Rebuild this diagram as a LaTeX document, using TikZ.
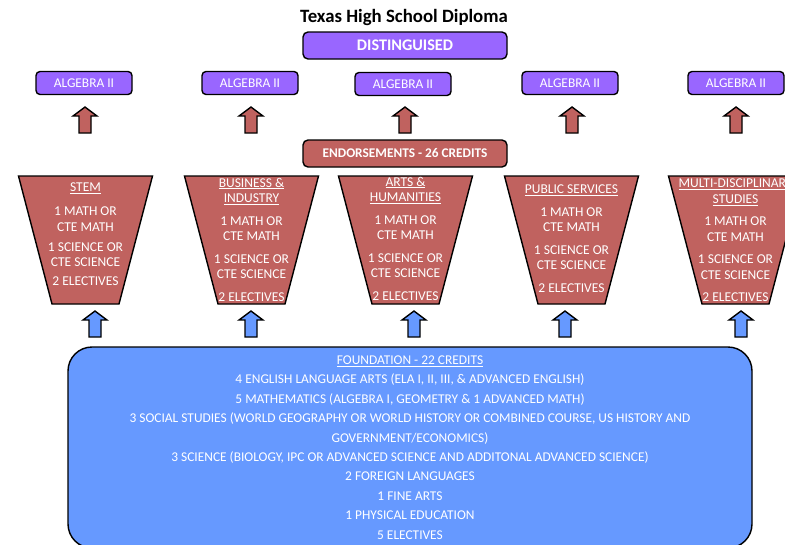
\documentclass[tikz,border=0pt]{standalone}
\usepackage{fontspec}
\setmainfont{Carlito}
\usepackage{tikz}
\definecolor{distpurple}{RGB}{153,102,255}
\definecolor{endorsered}{RGB}{192,98,95}
\definecolor{foundblue}{RGB}{102,153,255}

\begin{document}
\begin{tikzpicture}[x=1pt,y=-1pt,
    purplebox/.style={draw=black,line width=1.4pt,fill=distpurple,rounded corners=4pt,
      text=white,inner sep=0pt,minimum width=96pt,minimum height=23pt,
      font=\fontsize{13.4}{15}\selectfont},
    headbox/.style={draw=black,line width=1.4pt,rounded corners=5pt,text=white,
      inner sep=0pt,minimum width=204pt,minimum height=27pt},
    traptext/.style={text=white,inner sep=0pt,align=center,
      font=\fontsize{13.5}{15.5}\selectfont},
    blockarrow/.style={draw=black,line width=1.4pt}]
    \useasboundingbox (0,0) rectangle (785,544);
    \clip (0,0) rectangle (785,544);
    % Title and top box
    \node[font=\fontsize{18.8}{20}\selectfont\bfseries] (title) at (404,17) {Texas High School Diploma};
    \node[headbox,fill=distpurple,font=\fontsize{16.2}{17}\selectfont\bfseries] (dist) at (405,45.5) {DISTINGUISED};
    % Algebra II row
    \node[purplebox] (alg1) at (84,83) {ALGEBRA II};
    \node[purplebox] (alg2) at (250,83) {ALGEBRA II};
    \node[purplebox] (alg3) at (403,84) {ALGEBRA II};
    \node[purplebox] (alg4) at (570,83) {ALGEBRA II};
    \node[purplebox] (alg5) at (736,83) {ALGEBRA II};
    % Red arrows
    \foreach \x in {85,251,405,572,736}
        \draw[blockarrow,fill=endorsered] (\x-6,133) -- (\x-6,116) -- (\x-12,116) -- (\x,107)
            -- (\x+12,116) -- (\x+6,116) -- (\x+6,133) -- cycle;
    \node[headbox,fill=endorsered,font=\fontsize{13.3}{15}\selectfont\bfseries] (endorse) at (405,153.5) {ENDORSEMENTS - 26 CREDITS};
    % Endorsement trapezoids
    \foreach \x in {85.5,251.5,405.5,571.5,735.5}
        \draw[blockarrow,fill=endorsered] (\x-67,176) -- (\x+67,176) -- (\x+33.5,304) -- (\x-33.5,304) -- cycle;
    \node[traptext] (stem) at (85.5,234.5) {\underline{STEM}\\[8.5pt]1 MATH OR\\CTE MATH\\[4.5pt]1 SCIENCE OR\\CTE SCIENCE\\[3.5pt]2 ELECTIVES};
    \node[traptext] (business) at (251.5,239.5) {\underline{BUSINESS \&}\\\underline{INDUSTRY}\\[7pt]1 MATH OR\\CTE MATH\\[7pt]1 SCIENCE OR\\CTE SCIENCE\\[7pt]2 ELECTIVES};
    \node[traptext] (arts) at (405.5,238.5) {\underline{ARTS \&}\\\underline{HUMANITIES}\\[7pt]1 MATH OR\\CTE MATH\\[7pt]1 SCIENCE OR\\CTE SCIENCE\\[7pt]2 ELECTIVES};
    \node[traptext] (public) at (571.5,238.5) {\underline{PUBLIC SERVICES}\\[7pt]1 MATH OR\\CTE MATH\\[7pt]1 SCIENCE OR\\CTE SCIENCE\\[7pt]2 ELECTIVES};
    \node[traptext] (multi) at (735.5,240.5) {\underline{MULTI-DISCIPLINARY}\\\underline{STUDIES}\\[7pt]1 MATH OR\\CTE MATH\\[7pt]1 SCIENCE OR\\CTE SCIENCE\\[7pt]2 ELECTIVES};
    % Blue arrows
    \foreach \x in {95,251,414,565,741}
        \draw[blockarrow,fill=foundblue] (\x-6,337) -- (\x-6,320) -- (\x-12,320) -- (\x,311)
            -- (\x+12,320) -- (\x+6,320) -- (\x+6,337) -- cycle;
    % Foundation
    \node[draw=black,line width=1.4pt,fill=foundblue,rounded corners=24pt,text=white,
        minimum width=684pt,minimum height=201pt,inner sep=0pt,align=center,
        font=\fontsize{13.4}{19.44}\selectfont] (found) at (410,447.5)
        {\underline{FOUNDATION - 22 CREDITS}\\
         4 ENGLISH LANGUAGE ARTS (ELA I, II, III, \& ADVANCED ENGLISH)\\
         5 MATHEMATICS (ALGEBRA I, GEOMETRY \& 1 ADVANCED MATH)\\
         3 SOCIAL STUDIES (WORLD GEOGRAPHY OR WORLD HISTORY OR COMBINED COURSE, US HISTORY AND\\
         GOVERNMENT/ECONOMICS)\\
         3 SCIENCE (BIOLOGY, IPC OR ADVANCED SCIENCE AND ADDITONAL ADVANCED SCIENCE)\\
         2 FOREIGN LANGUAGES\\
         1 FINE ARTS\\
         1 PHYSICAL EDUCATION\\
         5 ELECTIVES};
\end{tikzpicture}
\end{document}
